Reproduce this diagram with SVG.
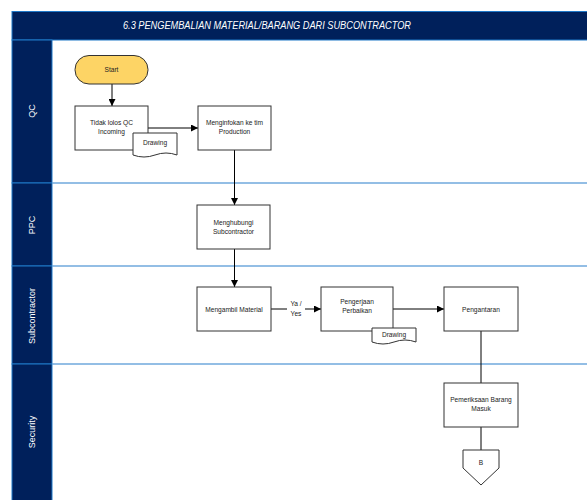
<svg xmlns="http://www.w3.org/2000/svg" width="587" height="500" viewBox="0 0 587 500">
<defs>
<marker id="ah" viewBox="0 0 10 10" refX="10" refY="5" markerWidth="7" markerHeight="7" markerUnits="userSpaceOnUse" orient="auto">
<path d="M0,0 L10,5 L0,10 z" fill="#000"/>
</marker>
<style>
.lane{fill:#00205b;stroke:#1f78c8;stroke-width:1}
.sep{stroke:#6fa8dc;stroke-width:1.5}
.lt{fill:#fff;font-family:"Liberation Sans",Arial,sans-serif;font-size:9px;text-anchor:middle}
.box{fill:#fff;stroke:#333;stroke-width:1}
.t{fill:#222;font-family:"Liberation Sans",Arial,sans-serif;font-size:6.6px;text-anchor:middle}
.c{stroke:#000;stroke-width:1;fill:none}
</style>
</defs>
<rect width="587" height="500" fill="#fff"/>
<g id="title">
<rect x="12" y="11.5" width="580" height="28.5" class="lane"/>
<text x="267" y="29" fill="#fff" font-family="'Liberation Sans',Arial,sans-serif" font-size="10" font-style="italic" text-anchor="middle" textLength="288" lengthAdjust="spacingAndGlyphs">6.3 PENGEMBALIAN MATERIAL/BARANG DARI SUBCONTRACTOR</text>
</g>
<g id="lanes">
<rect x="12" y="40" width="40" height="143" class="lane"/>
<rect x="12" y="183" width="40" height="83" class="lane"/>
<rect x="12" y="266" width="40" height="98" class="lane"/>
<rect x="12" y="364" width="40" height="140" class="lane"/>
<line x1="52" y1="183" x2="587" y2="183" class="sep"/>
<line x1="52" y1="266" x2="587" y2="266" class="sep"/>
<line x1="52" y1="364" x2="587" y2="364" class="sep"/>
<text class="lt" transform="translate(35,111) rotate(-90)">QC</text>
<text class="lt" transform="translate(35,225) rotate(-90)">PPC</text>
<text class="lt" transform="translate(35,316) rotate(-90)">Subcontractor</text>
<text class="lt" transform="translate(35,432) rotate(-90)">Security</text>
</g>
<g id="connectors">
<line x1="112" y1="84" x2="112" y2="106" class="c" marker-end="url(#ah)"/>
<line x1="148" y1="128" x2="198" y2="128" class="c" marker-end="url(#ah)"/>
<line x1="234.5" y1="150" x2="234.5" y2="205" class="c" marker-end="url(#ah)"/>
<line x1="234.5" y1="249" x2="234.5" y2="287" class="c" marker-end="url(#ah)"/>
<line x1="271" y1="309" x2="287" y2="309" class="c"/>
<line x1="305" y1="309" x2="321" y2="309" class="c" marker-end="url(#ah)"/>
<text x="296" y="306" class="t">Ya /</text>
<text x="296" y="316" class="t">Yes</text>
<line x1="393" y1="309" x2="444" y2="309" class="c" marker-end="url(#ah)"/>
<line x1="481" y1="331" x2="481" y2="383" class="c"/>
<line x1="481" y1="427" x2="481" y2="450" class="c"/>
</g>
<g id="start">
<rect x="75" y="55.5" width="73" height="28.5" rx="14" ry="14" fill="#fdd465" stroke="#333" stroke-width="1"/>
<text x="111.5" y="72" class="t">Start</text>
</g>
<g id="tidak-lolos">
<rect x="75" y="106" width="73" height="44" class="box"/>
<text x="111.5" y="125" class="t">Tidak lolos QC</text>
<text x="111.5" y="134" class="t">Incoming</text>
<path d="M133,133 H177 V155 Q166,151 155,155 Q144,159 133,155 Z" class="box"/>
<text x="155" y="145" class="t">Drawing</text>
</g>
<g id="menginfokan">
<rect x="198" y="106" width="73" height="44" class="box"/>
<text x="234.5" y="125" class="t">Menginfokan ke tim</text>
<text x="234.5" y="134" class="t">Production</text>
</g>
<g id="menghubungi">
<rect x="197" y="205" width="73" height="44" class="box"/>
<text x="233.5" y="225" class="t">Menghubungi</text>
<text x="233.5" y="234" class="t">Subcontractor</text>
</g>
<g id="mengambil">
<rect x="197" y="287" width="74" height="44" class="box"/>
<text x="234" y="311.5" class="t">Mengambil Material</text>
</g>
<g id="pengerjaan">
<rect x="321" y="287" width="72" height="44" class="box"/>
<text x="357" y="304" class="t">Pengerjaan</text>
<text x="357" y="313" class="t">Perbaikan</text>
<path d="M372,328 H416 V342 Q405,338 394,342 Q383,346 372,342 Z" class="box"/>
<text x="394" y="337" class="t">Drawing</text>
</g>
<g id="pengantaran">
<rect x="444" y="287" width="74" height="44" class="box"/>
<text x="481" y="311.5" class="t">Pengantaran</text>
</g>
<g id="pemeriksaan">
<rect x="444" y="383" width="74" height="44" class="box"/>
<text x="481" y="402" class="t">Pemeriksaan Barang</text>
<text x="481" y="411" class="t">Masuk</text>
</g>
<g id="offpage-b">
<path d="M463,450 H499 V468 L481,485 L463,468 Z" class="box"/>
<text x="481" y="465" class="t">B</text>
</g>
</svg>
